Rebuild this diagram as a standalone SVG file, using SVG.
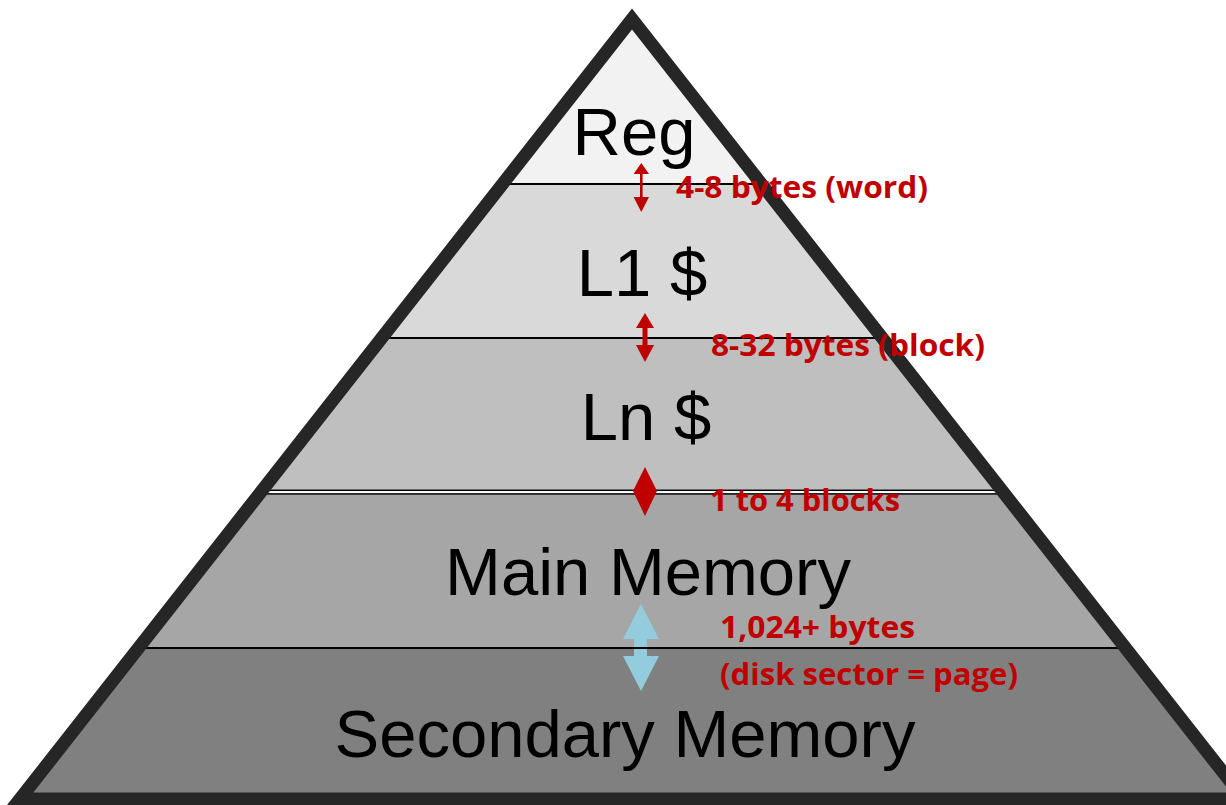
<svg xmlns="http://www.w3.org/2000/svg" width="1226" height="805" viewBox="0 0 1226 805">
  <style>
    .tier { font-family: "Liberation Sans", Arial, sans-serif; font-size: 67px; fill: #000; text-anchor: middle; }
    .note { font-family: "Open Sans", Lato, sans-serif; font-weight: 700; font-size: 31px; fill: #c00000; }
    .sep { stroke: #000; stroke-width: 1.8; }
    .red { fill: #c00000; }
  </style>
  <defs>
    <clipPath id="pyr">
      <polygon points="632,19 1244,799 20,799"/>
    </clipPath>
  </defs>
  <rect width="1226" height="805" fill="#fff"/>

  <!-- tier bands -->
  <g id="bands" clip-path="url(#pyr)">
    <rect x="0" y="0" width="1260" height="184" fill="#f2f2f2"/>
    <rect x="0" y="184" width="1260" height="154" fill="#d9d9d9"/>
    <rect x="0" y="338" width="1260" height="154" fill="#bfbfbf"/>
    <rect x="0" y="492" width="1260" height="156" fill="#a6a6a6"/>
    <rect x="0" y="648" width="1260" height="160" fill="#808080"/>
    <!-- separators -->
    <line class="sep" x1="0" y1="184" x2="1260" y2="184"/>
    <line class="sep" x1="0" y1="338" x2="1260" y2="338"/>
    <rect x="0" y="490.3" width="1260" height="3.6" fill="#fff" stroke="#000" stroke-width="1.5"/>
    <line class="sep" x1="0" y1="648" x2="1260" y2="648"/>
  </g>

  <!-- pyramid outline -->
  <polygon id="outline" points="632,19 1244,799 20,799" fill="none" stroke="#262626" stroke-width="13" stroke-linejoin="miter" stroke-miterlimit="10"/>

  <!-- tier names -->
  <g id="reg"><text class="tier" x="634" y="155">Reg</text></g>
  <g id="l1"><text class="tier" x="642" y="296">L1 $</text></g>
  <g id="ln"><text class="tier" x="646" y="440">Ln $</text></g>
  <g id="main"><text class="tier" x="648" y="595">Main Memory</text></g>
  <g id="secondary"><text class="tier" x="625" y="757">Secondary Memory</text></g>

  <!-- transfer arrows -->
  <g id="connectors">
    <g id="arrow-reg-l1" class="red">
      <rect x="640" y="170" width="2.6" height="30"/>
      <polygon points="641.3,163 649,174 633.6,174"/>
      <polygon points="641.3,212 649,197 633.6,197"/>
    </g>
    <g id="arrow-l1-ln" class="red">
      <rect x="642.5" y="325" width="5" height="24"/>
      <polygon points="645,313 654,328 636,328"/>
      <polygon points="645,362 654,345 636,345"/>
    </g>
    <g id="arrow-ln-main" class="red">
      <polygon points="645,467 657,491 633,491"/>
      <polygon points="645,516 657,491 633,491"/>
    </g>
    <g id="arrow-main-sec" fill="#93cddd">
      <rect x="634" y="637" width="13" height="21"/>
      <polygon points="641,604 659,639 623,639"/>
      <polygon points="641,691 659,656 623,656"/>
    </g>
    <line class="sep" x1="620" y1="648" x2="662" y2="648"/>
  </g>

  <!-- transfer sizes -->
  <g id="labels">
    <text class="note" x="676" y="198" textLength="252" lengthAdjust="spacingAndGlyphs">4-8 bytes (word)</text>
    <text class="note" x="711" y="356" textLength="274" lengthAdjust="spacingAndGlyphs">8-32 bytes (block)</text>
    <text class="note" x="710" y="511" textLength="190" lengthAdjust="spacingAndGlyphs">1 to 4 blocks</text>
    <text class="note" x="720" y="638" textLength="195" lengthAdjust="spacingAndGlyphs">1,024+ bytes</text>
    <text class="note" x="720" y="685" textLength="298" lengthAdjust="spacingAndGlyphs">(disk sector = page)</text>
  </g>
</svg>
